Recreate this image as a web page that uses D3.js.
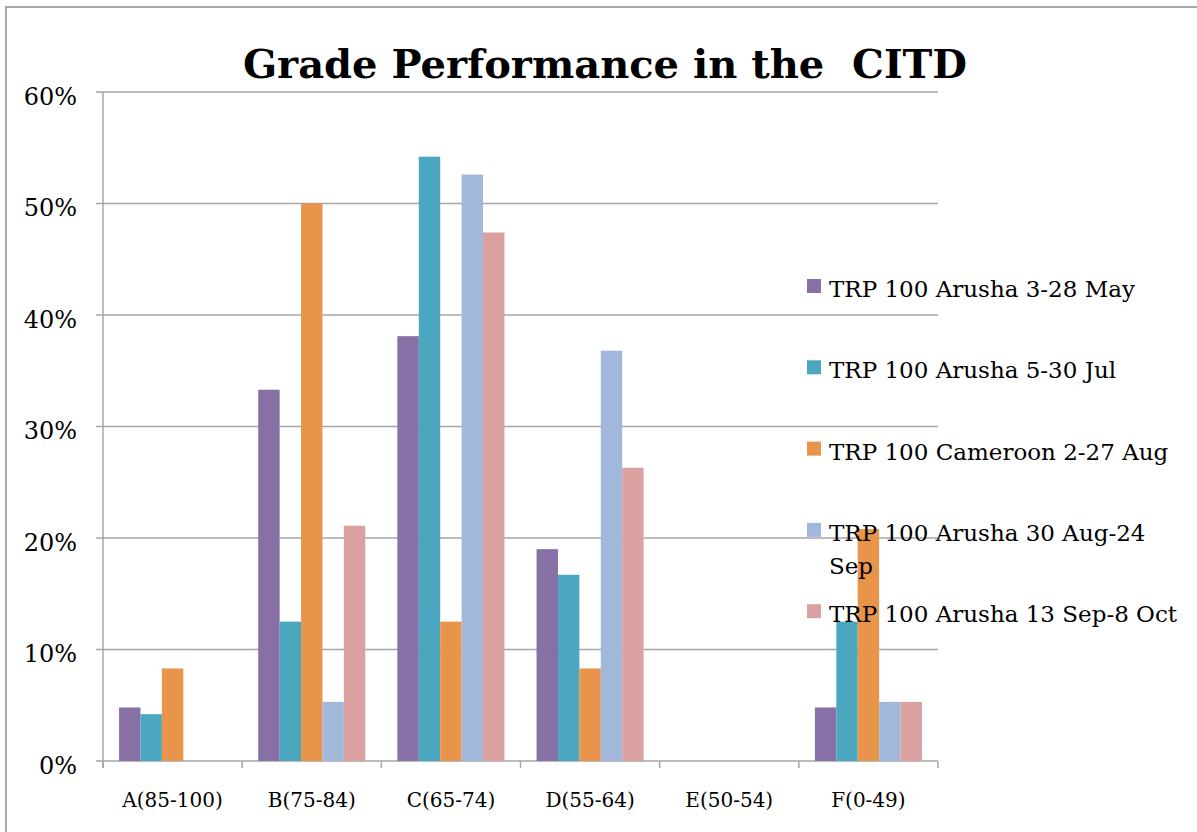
<!DOCTYPE html>
<html>
<head>
<meta charset="utf-8">
<script src="https://cdn.jsdelivr.net/npm/d3@7"></script>
<style>
  body { margin: 0; background: #fff; }
  text { font-family: 'DejaVu Serif', serif; fill: #000; }
  .title { font-weight: bold; white-space: pre; }
</style>
</head>
<body>
<div id="chart"></div>
<script>
const categories = ['A(85-100)', 'B(75-84)', 'C(65-74)', 'D(55-64)', 'E(50-54)', 'F(0-49)'];
const seriesNames = [
  'TRP 100 Arusha 3-28 May',
  'TRP 100 Arusha 5-30 Jul',
  'TRP 100 Cameroon 2-27 Aug',
  'TRP 100 Arusha 30 Aug-24 Sep',
  'TRP 100 Arusha 13 Sep-8 Oct'
];
// percent of students per grade
const arushaMay = [4.8, 33.3, 38.1, 19.0, 0, 4.8];
const arushaJul = [4.2, 12.5, 54.2, 16.7, 0, 12.5];
const cameroonAug = [8.3, 50.0, 12.5, 8.3, 0, 20.8];
const arushaAugSep = [0, 5.3, 52.6, 36.8, 0, 5.3];
const arushaSepOct = [0, 21.1, 47.4, 26.3, 0, 5.3];
const yTicks = [0, 10, 20, 30, 40, 50, 60];

const seriesValues = [arushaMay, arushaJul, cameroonAug, arushaAugSep, arushaSepOct];
const colors = ['#8670a5', '#4ba7c0', '#e8944a', '#a1b8da', '#dba1a0'];

const svgW = 1197;
const svgH = 832;
const margin = { top: 92, right: 259, bottom: 71, left: 103 };

const svg = d3.select('#chart').append('svg')
  .attr('width', svgW)
  .attr('height', svgH)
  .attr('viewBox', `0 0 ${svgW} ${svgH}`);

// outer frame (only top and left edges show)
svg.append('path')
  .attr('d', `M6,${svgH} V7 H${svgW}`)
  .attr('fill', 'none')
  .attr('stroke', '#a8a8a8')
  .attr('stroke-width', 2);

const x0 = d3.scaleBand()
  .domain(categories)
  .range([margin.left, svgW - margin.right]);

// excel style gap width 150%
const barW = x0.bandwidth() / (seriesNames.length + 1.5);
const x1 = d3.scaleBand()
  .domain(seriesNames)
  .range([barW * 0.75, barW * 0.75 + barW * seriesNames.length]);

const y = d3.scaleLinear()
  .domain([0, 60])
  .range([svgH - margin.bottom, margin.top]);

// Gridlines + y ticks
const gY = svg.append('g')
  .attr('class', 'y-axis');
yTicks.forEach((t) => {
  gY.append('line')
    .attr('x1', margin.left - 7)
    .attr('x2', svgW - margin.right)
    .attr('y1', y(t))
    .attr('y2', y(t))
    .attr('stroke', '#a6a6a6')
    .attr('stroke-width', 1.5);
  gY.append('text')
    .attr('x', 77)
    .attr('y', y(t))
    .attr('dy', 12.5)
    .attr('text-anchor', 'end')
    .style('font-size', '24px')
    .text(`${t}%`);
});
gY.append('line')
  .attr('x1', margin.left)
  .attr('x2', margin.left)
  .attr('y1', y(60))
  .attr('y2', y(0) + 7)
  .attr('stroke', '#a6a6a6')
  .attr('stroke-width', 1.5);

// category ticks and labels
const gX = svg.append('g')
  .attr('class', 'x-axis');
categories.concat([null]).forEach((c) => {
  const xPos = c === null ? x0.range()[1] : x0(c);
  gX.append('line')
    .attr('x1', xPos)
    .attr('x2', xPos)
    .attr('y1', y(0))
    .attr('y2', y(0) + 7)
    .attr('stroke', '#a6a6a6')
    .attr('stroke-width', 1.5);
});
categories.forEach((c) => {
  gX.append('text')
    .attr('x', x0(c) + x0.bandwidth() / 2)
    .attr('y', y(0) + 46)
    .attr('text-anchor', 'middle')
    .style('font-size', '20px')
    .text(c);
});

// Bars
const gB = svg.append('g')
  .attr('class', 'bars');
seriesNames.forEach((s, si) => {
  categories.forEach((c, ci) => {
    const v = seriesValues[si][ci];
    if (v <= 0) return;
    gB.append('rect')
      .attr('x', x0(c) + x1(s))
      .attr('y', y(v))
      .attr('width', x1.bandwidth())
      .attr('height', y(0) - y(v))
      .attr('fill', colors[si]);
  });
});

// Title
svg.append('text')
  .attr('class', 'title')
  .attr('x', 605)
  .attr('y', 78)
  .attr('text-anchor', 'middle')
  .style('font-size', '40px')
  .text('Grade Performance in the  CITD');

// Legend
const gL = svg.append('g')
  .attr('class', 'legend');
const legendX = 807;
const legendTop = 297;
const legendStep = 81.3;
const maxTextW = svgW - 10 - (legendX + 22);
seriesNames.forEach((s, i) => {
  const baseY = legendTop + i * legendStep;
  gL.append('rect')
    .attr('x', legendX)
    .attr('y', baseY - 18)
    .attr('width', 14)
    .attr('height', 14)
    .attr('fill', colors[i]);
  const t = gL.append('text')
    .attr('x', legendX + 22)
    .attr('y', baseY)
    .style('font-size', '23px');
  // wrap words if the label is too long
  const words = s.split(' ');
  let line = [];
  let tspan = t.append('tspan').attr('x', legendX + 22);
  words.forEach((w) => {
    line.push(w);
    tspan.text(line.join(' '));
    if (tspan.node().getComputedTextLength() > maxTextW && line.length > 1) {
      line.pop();
      tspan.text(line.join(' '));
      line = [w];
      tspan = t.append('tspan')
        .attr('x', legendX + 22)
        .attr('dy', 33)
        .text(w);
    }
  });
});
</script>
</body>
</html>
